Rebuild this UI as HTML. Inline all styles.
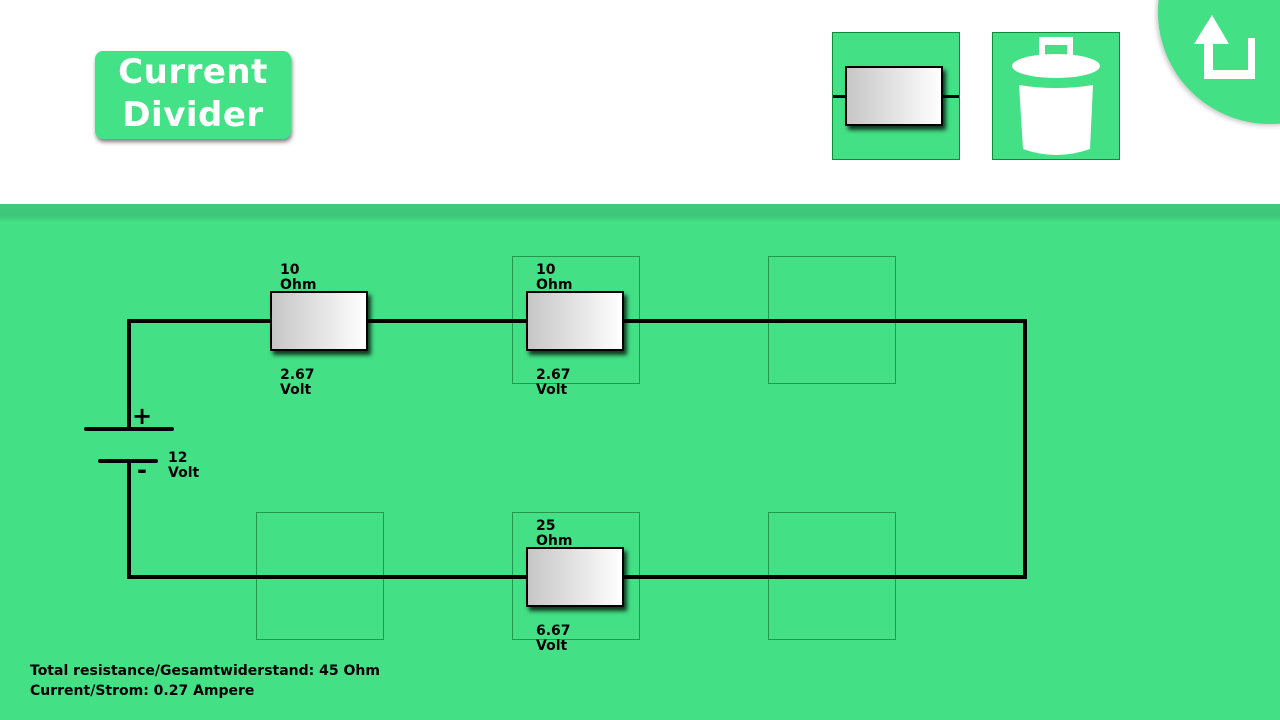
<!DOCTYPE html>
<html><head><style>
body{margin:0;width:1280px;height:720px;overflow:hidden;font-family:"DejaVu Sans","Liberation Sans",sans-serif;background:#fff;position:relative}
.g{position:absolute;left:0;top:204px;width:1280px;height:516px;background:#43e085}
.band{position:absolute;left:0;top:204px;width:1280px;height:18px;background:linear-gradient(#3fcb7b,#3ec77a 70%,#43e085)}
.title{position:absolute;left:95px;top:51px;width:196px;height:88px;background:#44e286;border-radius:8px;box-shadow:1px 3px 4px rgba(0,0,0,.5);color:#fff;font-weight:bold;font-size:34px;line-height:43px;text-align:center;letter-spacing:0.5px}
.tb{position:absolute;top:32px;width:126px;height:126px;background:#43e085;border:1px solid #0d8a3a}
.res{position:absolute;width:94px;height:56px;border:2px solid #000;background:linear-gradient(90deg,#c6c6c6,#fff);box-shadow:3px 4px 4px rgba(0,0,0,.75)}
.slot{position:absolute;width:126px;height:126px;border:1px solid #1f9a4c}
.w{position:absolute;background:#000}
.lb{position:absolute;font-weight:bold;font-size:14px;line-height:15px;color:#000}
</style></head><body>
<div class="title">Current<br>Divider</div>
<div class="tb" style="left:832px"><div class="w" style="left:0;top:62px;width:126px;height:3px"></div><div class="res" style="left:12px;top:33px"></div></div>
<div class="tb" style="left:992px">
<svg width="126" height="126" style="position:absolute;left:0;top:0">
<path d="M46 4h34v22h-6v-14h-22v14h-6z" fill="#fff"/>
<ellipse cx="63" cy="33" rx="44" ry="12" fill="#fff"/>
<path d="M26 52 Q63 58 100 52 L97 116 Q63 128 30 116 Z" fill="#fff"/>
</svg></div>
<div style="position:absolute;left:1158px;top:-100px;width:224px;height:224px;border-radius:50%;background:#43e085;box-shadow:-2px 2px 4px rgba(0,0,0,.2)"></div>
<svg width="80" height="80" style="position:absolute;left:1190px;top:12px">
<polygon points="22,3 4,32 14,32 14,67 65,67 65,26 58,26 58,58 23,58 23,32 39,32" fill="#fff"/>
</svg>
<div class="g"></div><div class="band"></div>
<div class="slot" style="left:512px;top:256px"></div>
<div class="slot" style="left:768px;top:256px"></div>
<div class="slot" style="left:256px;top:512px"></div>
<div class="slot" style="left:512px;top:512px"></div>
<div class="slot" style="left:768px;top:512px"></div>
<div class="w" style="left:127px;top:319px;width:900px;height:4px"></div>
<div class="w" style="left:127px;top:575px;width:900px;height:4px"></div>
<div class="w" style="left:1023px;top:319px;width:4px;height:260px"></div>
<div class="w" style="left:127px;top:319px;width:4px;height:110px"></div>
<div class="w" style="left:127px;top:461px;width:4px;height:118px"></div>
<div class="w" style="left:84px;top:427px;width:90px;height:4px;border-radius:2px"></div>
<div class="w" style="left:98px;top:459px;width:60px;height:4px;border-radius:2px"></div>
<div class="lb" style="left:132px;top:404px;font-size:24px;line-height:24px">+</div>
<div class="lb" style="left:137px;top:458px;font-size:24px;line-height:24px">-</div>
<div class="lb" style="left:168px;top:451px">12<br>Volt</div>
<div class="res" style="left:270px;top:291px"></div>
<div class="res" style="left:526px;top:291px"></div>
<div class="res" style="left:526px;top:547px"></div>
<div class="lb" style="left:280px;top:263px">10<br>Ohm</div>
<div class="lb" style="left:280px;top:368px">2.67<br>Volt</div>
<div class="lb" style="left:536px;top:263px">10<br>Ohm</div>
<div class="lb" style="left:536px;top:368px">2.67<br>Volt</div>
<div class="lb" style="left:536px;top:519px">25<br>Ohm</div>
<div class="lb" style="left:536px;top:624px">6.67<br>Volt</div>
<div class="lb" style="left:30px;top:661px;line-height:20px">Total resistance/Gesamtwiderstand: 45 Ohm<br>Current/Strom: 0.27 Ampere</div>
</body></html>
